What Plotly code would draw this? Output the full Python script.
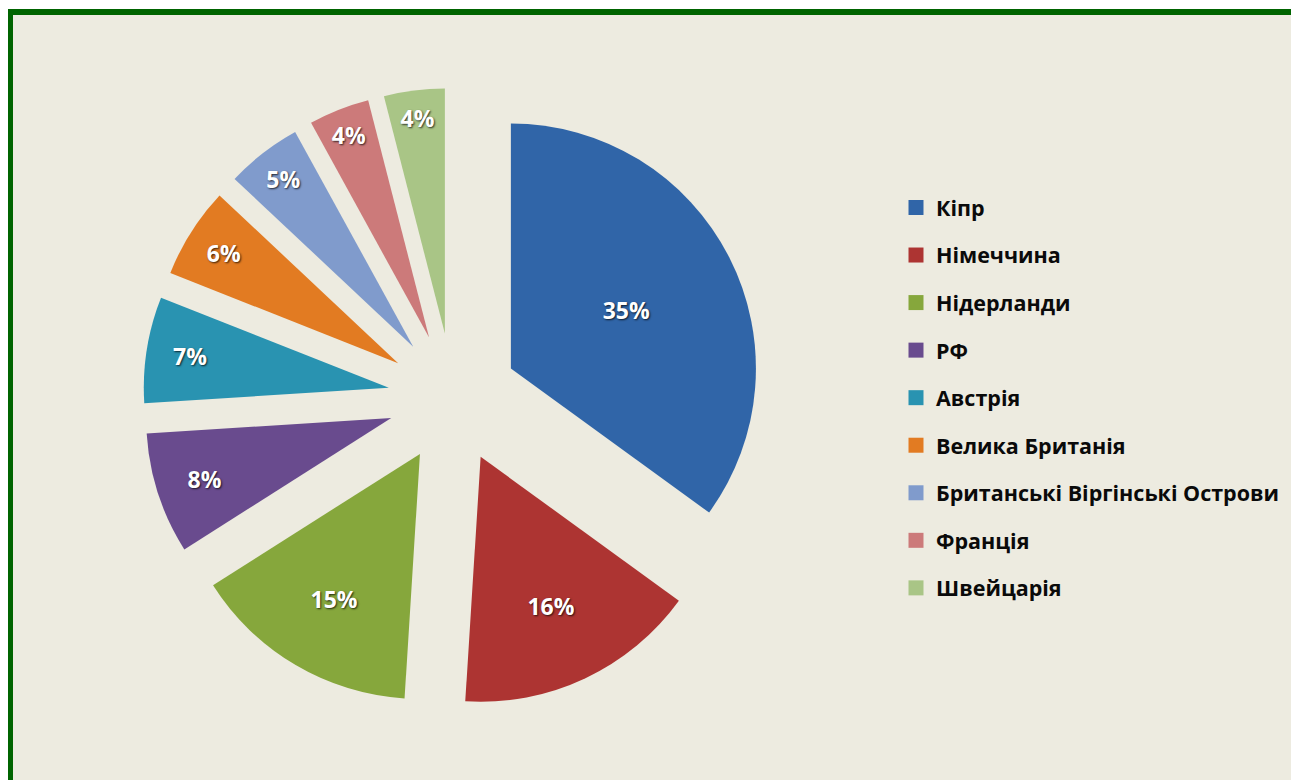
import plotly.graph_objects as go

countries = ["Кіпр", "Німеччина", "Нідерланди", "РФ", "Австрія", "Велика Британія",
             "Британські Віргінські Острови", "Франція", "Швейцарія"]
shares = [35, 16, 15, 8, 7, 6, 5, 4, 4]
colors = ["#3065A8", "#AD3432", "#86A73C", "#694B8E", "#2993B1", "#E27B22",
          "#809BCC", "#CC7A7A", "#A9C586"]

# page body has an 8px margin; figure fills the rest of the 1299x780 window
OFF = 8
W, H = 1299 - OFF, 780 - OFF
BG = "#EDEBE0"
FRAME = "#006400"


def px(x):
    return (x - OFF) / W


def py(y):
    return 1 - (y - OFF) / H


fig = go.Figure()

fig.add_trace(go.Pie(
    labels=countries,
    values=shares,
    sort=False,
    direction="clockwise",
    rotation=0,
    pull=[0.265] * len(shares),
    marker=dict(colors=colors, line=dict(width=0)),
    texttemplate="%{percent:.0%}",
    textposition="inside",
    insidetextorientation="horizontal",
    textfont=dict(family="Open Sans", size=23, color="white", weight="bold",
                  shadow="1px 1px 2px rgba(0,0,0,0.75)"),
    domain=dict(x=[px(143), px(763)], y=[py(708), py(88)]),
    showlegend=False,
    hoverinfo="label+percent",
))

# legend entries (one per country, spaced like the original)
for name, col in zip(countries, colors):
    fig.add_trace(go.Scatter(
        x=[None], y=[None], mode="markers", name=name, legendgroup=name,
        marker=dict(symbol="square", size=15, color=col),
        showlegend=True, hoverinfo="skip",
    ))

fig.update_layout(
    width=W, height=H,
    margin=dict(l=0, r=0, t=0, b=0),
    paper_bgcolor="white",
    plot_bgcolor="rgba(0,0,0,0)",
    xaxis=dict(visible=False),
    yaxis=dict(visible=False),
    legend=dict(
        x=px(896), xanchor="left",
        y=py(187), yanchor="top",
        bgcolor="rgba(0,0,0,0)",
        font=dict(family="Open Sans", size=21.5, color="#0A0A0A", weight="bold"),
        tracegroupgap=16.6,
        itemclick=False, itemdoubleclick=False,
    ),
    shapes=[dict(
        type="rect", xref="paper", yref="paper", layer="below",
        x0=px(10), y0=py(12), x1=px(1330), y1=py(820),
        fillcolor=BG, line=dict(color=FRAME, width=6),
    )],
)

fig.write_html("out.html")
